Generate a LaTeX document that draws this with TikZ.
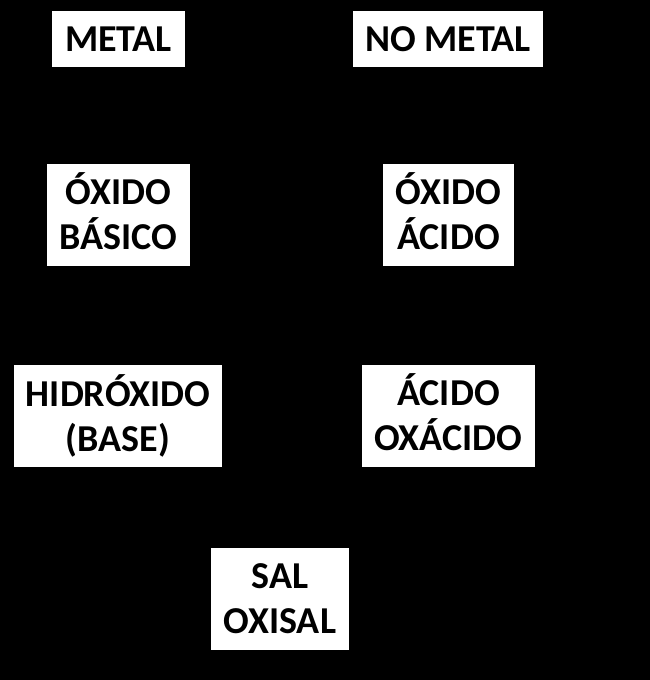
\documentclass[tikz,border=0pt]{standalone}
\usepackage{fontspec}
\setmainfont{Carlito}
\usepackage{tikz}

% recorta la altura del acento en la primera linea
\newcommand\tope[1]{\raisebox{0pt}[0.66em]{#1}}

\tikzset{caja/.style={fill=white,inner sep=0pt,align=center,
  font=\fontsize{38}{45}\selectfont\bfseries}}

\begin{document}
\begin{tikzpicture}[x=1pt,y=-1pt]
\useasboundingbox (0,0) rectangle (650,680);
\fill[black] (0,0) rectangle (650,680);
% fila 1
\node[caja,minimum width=133,minimum height=56] (metal) at (118.5,39) {METAL};
\node[caja,minimum width=190,minimum height=56] (nometal) at (448,39) {NO METAL};
% fila 2
\node[caja,minimum width=143,minimum height=102] (oxbasico) at (118.5,215) {\tope{ÓXIDO}\\BÁSICO};
\node[caja,minimum width=131,minimum height=102] (oxacido) at (448.5,215) {\tope{ÓXIDO}\\ÁCIDO};
% fila 3
\node[caja,minimum width=208,minimum height=102] (hidroxido) at (118,416) {HIDRÓXIDO\\(BASE)};
\node[caja,minimum width=173,minimum height=102] (oxacido2) at (448.5,416) {\tope{ÁCIDO}\\OXÁCIDO};
% sal
\node[caja,minimum width=138,minimum height=102] (sal) at (280,599) {SAL\\OXISAL};
\end{tikzpicture}
\end{document}
